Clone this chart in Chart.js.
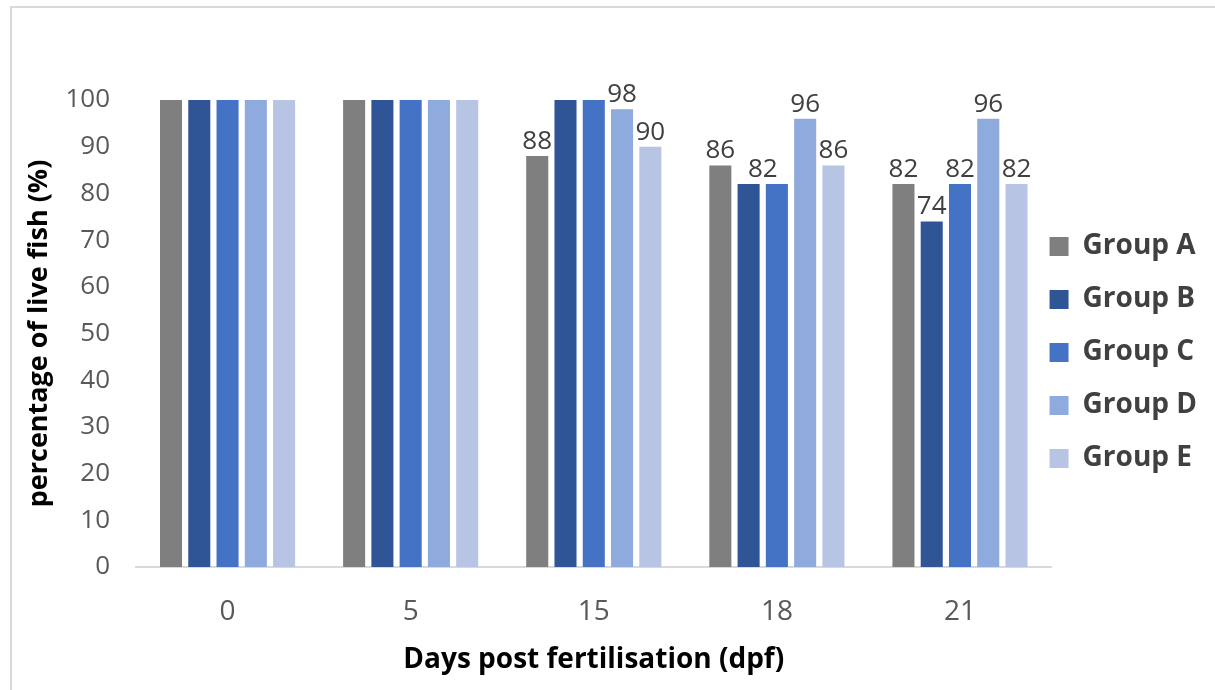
<!DOCTYPE html>
<html lang="en">
<head>
    <meta charset="UTF-8">
    <title>Percentage of live fish</title>
    <script src="https://cdn.jsdelivr.net/npm/chart.js"></script>
    <style>
        body { margin: 0; background: #fff; overflow: hidden; }
        #frame { position: absolute; left: 10px; top: 6px; width: 1205px; height: 684px;
                 border-top: 2px solid #d9d9d9; border-left: 2px solid #d9d9d9; box-sizing: border-box; }
        #wrap { position: absolute; left: 0; top: 0; width: 1234px; height: 690px; }
    </style>
</head>
<body>
    <div id="frame"></div>
    <div id="wrap"><canvas id="fishChart"></canvas></div>
    <script>
        const days = ['0', '5', '15', '18', '21'];
        const groupNames = ['Group A', 'Group B', 'Group C', 'Group D', 'Group E'];
        const groupA = [100, 100, 88, 86, 82];
        const groupB = [100, 100, 100, 82, 74];
        const groupC = [100, 100, 100, 82, 82];
        const groupD = [100, 100, 98, 96, 96];
        const groupE = [100, 100, 90, 86, 82];
        const colours = ['#7f7f7f', '#2f5597', '#4472c4', '#8faadc', '#b8c4e4'];

        const font = 'Open Sans';

        // value labels above bars below 100; two neighbours with the same value share one label
        const valueLabels = {
            id: 'valueLabels',
            afterDatasetsDraw(chart) {
                const ctx = chart.ctx;
                const sets = chart.data.datasets;
                ctx.save();
                ctx.font = '26px "' + font + '"';
                ctx.fillStyle = '#404040';
                ctx.textAlign = 'center';
                ctx.textBaseline = 'alphabetic';
                chart.data.labels.forEach((lab, j) => {
                    for (let i = 0; i < sets.length; i++) {
                        const v = sets[i].data[j];
                        if (v >= 100) continue;
                        const bar = chart.getDatasetMeta(i).data[j];
                        let x = bar.x;
                        if (i + 1 < sets.length && sets[i + 1].data[j] === v) {
                            x = (x + chart.getDatasetMeta(i + 1).data[j].x) / 2;
                            i++;
                        }
                        ctx.fillText(v, x, bar.y - 7);
                    }
                });
                ctx.restore();
            }
        };

        // move the legend closer to the plot and up a bit
        const legendShift = {
            id: 'legendShift',
            afterLayout(chart) {
                const lg = chart.legend;
                lg.left -= 27;
                lg.right -= 27;
                lg.top -= 36;
                lg.bottom -= 36;
            }
        };

        const series = [groupA, groupB, groupC, groupD, groupE];

        new Chart(document.getElementById('fishChart'), {
            type: 'bar',
            data: {
                labels: days,
                datasets: series.map((d, i) => ({
                    label: groupNames[i],
                    data: d,
                    backgroundColor: colours[i],
                    categoryPercentage: 0.772,
                    barPercentage: 0.78
                }))
            },
            options: {
                responsive: true,
                maintainAspectRatio: false,
                animation: false,
                layout: { padding: { top: 100, left: 23, right: 0, bottom: 13 } },
                plugins: {
                    tooltip: { enabled: false },
                    legend: {
                        position: 'right',
                        labels: {
                            boxWidth: 19,
                            boxHeight: 19,
                            padding: 25,
                            color: '#404040',
                            font: { family: font, size: 28, weight: 'bold' }
                        }
                    }
                },
                scales: {
                    x: {
                        afterFit(scale) { scale.height = 110; },
                        grid: { display: false, drawTicks: false },
                        border: { display: true, color: '#d9d9d9', width: 2 },
                        ticks: { color: '#595959', padding: 28, font: { family: font, size: 28 } },
                        title: {
                            display: true,
                            text: 'Days post fertilisation (dpf)',
                            color: '#000',
                            padding: 0,
                            font: { family: font, size: 28, weight: 'bold' }
                        }
                    },
                    y: {
                        min: 0,
                        max: 100,
                        afterFit(scale) { scale.width = 113; },
                        grid: { display: false, drawTicks: false },
                        border: { display: false },
                        ticks: { stepSize: 10, color: '#595959', padding: 26, font: { family: font, size: 26 } },
                        title: {
                            display: true,
                            text: 'percentage of live fish (%)',
                            color: '#000',
                            padding: 0,
                            font: { family: font, size: 27, weight: 'bold' }
                        }
                    }
                }
            },
            plugins: [valueLabels, legendShift]
        });
    </script>
</body>
</html>
